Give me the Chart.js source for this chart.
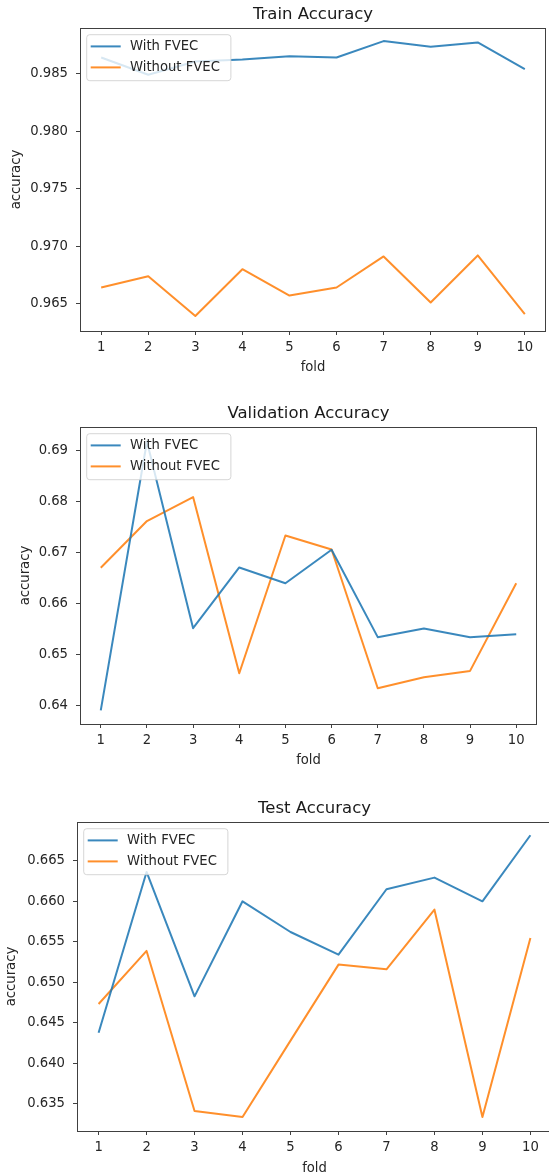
<!DOCTYPE html>
<html>
<head>
<meta charset="utf-8">
<script src="https://cdn.jsdelivr.net/npm/chart.js@4.4.1/dist/chart.umd.min.js"></script>
<style>
  html, body { margin: 0; padding: 0; background: #ffffff; overflow: hidden; width: 549px; height: 1176px; }
  canvas { position: absolute; left: 0; display: block; }
</style>
</head>
<body>
<canvas id="trainChart" width="549" height="390" style="top:0px"></canvas>
<canvas id="valChart" width="549" height="395" style="top:390px"></canvas>
<canvas id="testChart" width="560" height="391" style="top:785px"></canvas>
<script>
// ---------------- data ----------------
const folds = [1, 2, 3, 4, 5, 6, 7, 8, 9, 10];
const seriesLabels = ['With FVEC', 'Without FVEC'];
const chartTitles = ['Train Accuracy', 'Validation Accuracy', 'Test Accuracy'];
const xAxisLabel = 'fold';
const yAxisLabel = 'accuracy';

const trainWith    = [0.98642, 0.98492, 0.98608, 0.98625, 0.98654, 0.98642, 0.98785, 0.98735, 0.98773, 0.98541];
const trainWithout = [0.96640, 0.96738, 0.96392, 0.96799, 0.96570, 0.96640, 0.96910, 0.96509, 0.96919, 0.96407];

const valWith    = [0.63915, 0.69180, 0.65524, 0.66713, 0.66404, 0.67059, 0.65348, 0.65518, 0.65348, 0.65407];
const valWithout = [0.66707, 0.67622, 0.68091, 0.64641, 0.67339, 0.67065, 0.64348, 0.64563, 0.64687, 0.66404];

const testWith    = [0.64378, 0.66364, 0.64827, 0.66001, 0.65622, 0.65342, 0.66150, 0.66294, 0.66001, 0.66817];
const testWithout = [0.64732, 0.65388, 0.63410, 0.63336, 0.64280, 0.65219, 0.65161, 0.65898, 0.63336, 0.65548];

const trainTicks = [0.965, 0.970, 0.975, 0.980, 0.985];
const trainTickLabels = ['0.965', '0.970', '0.975', '0.980', '0.985'];
const valTicks = [0.64, 0.65, 0.66, 0.67, 0.68, 0.69];
const valTickLabels = ['0.64', '0.65', '0.66', '0.67', '0.68', '0.69'];
const testTicks = [0.635, 0.640, 0.645, 0.650, 0.655, 0.660, 0.665];
const testTickLabels = ['0.635', '0.640', '0.645', '0.650', '0.655', '0.660', '0.665'];

const trainRange = [0.96261, 0.98899];
const valRange = [0.63647, 0.69464];
const testRange = [0.63163, 0.66981];
const foldRange = [0.55, 10.45];

// ---------------- style ----------------
const FONT = 'DejaVu Sans';
const TEXT = '#262626';
const SPINE = '#404040';
const COLORS = ['rgba(31,119,180,0.88)', 'rgba(255,127,14,0.88)'];

Chart.defaults.font.family = FONT;
Chart.defaults.font.size = 13.2;
Chart.defaults.color = TEXT;

const mplPlugin = {
  id: 'mpl',
  afterDatasetsDraw(chart) {
    const { ctx, chartArea: a } = chart;
    ctx.save();
    ctx.strokeStyle = SPINE;
    ctx.lineWidth = 1;
    ctx.strokeRect(Math.round(a.left) + 0.5, Math.round(a.top) + 0.5,
                   Math.round(a.right - a.left) - 1, Math.round(a.bottom - a.top));
    ctx.restore();
  },
  afterDraw(chart, args, opts) {
    const { ctx, chartArea: a } = chart;
    ctx.save();
    // title
    ctx.fillStyle = '#1a1a1a';
    ctx.font = '16.5px "' + FONT + '"';
    ctx.textAlign = 'center';
    ctx.textBaseline = 'middle';
    ctx.fillText(opts.title, (a.left + a.right) / 2, a.top - 13);

    // legend (upper left, semi-transparent)
    ctx.font = '13.2px "' + FONT + '"';
    const ds = chart.data.datasets;
    let maxW = 0;
    ds.forEach(d => { maxW = Math.max(maxW, ctx.measureText(d.label).width); });
    const bx = a.left + 6.7, by = a.top + 6.7;
    const bw = 43.3 + maxW + 11, bh = 46;
    const r = 3;
    ctx.beginPath();
    ctx.moveTo(bx + r, by);
    ctx.lineTo(bx + bw - r, by);
    ctx.arcTo(bx + bw, by, bx + bw, by + r, r);
    ctx.lineTo(bx + bw, by + bh - r);
    ctx.arcTo(bx + bw, by + bh, bx + bw - r, by + bh, r);
    ctx.lineTo(bx + r, by + bh);
    ctx.arcTo(bx, by + bh, bx, by + bh - r, r);
    ctx.lineTo(bx, by + r);
    ctx.arcTo(bx, by, bx + r, by, r);
    ctx.closePath();
    ctx.fillStyle = 'rgba(255,255,255,0.8)';
    ctx.fill();
    ctx.strokeStyle = 'rgba(204,204,204,0.8)';
    ctx.lineWidth = 1;
    ctx.stroke();
    ds.forEach((d, i) => {
      const cy = by + 11.7 + i * 21;
      ctx.strokeStyle = d.borderColor;
      ctx.lineWidth = 2;
      ctx.beginPath();
      ctx.moveTo(bx + 4, cy);
      ctx.lineTo(bx + 34, cy);
      ctx.stroke();
      ctx.fillStyle = TEXT;
      ctx.textAlign = 'left';
      ctx.textBaseline = 'middle';
      ctx.fillText(d.label, bx + 43.3, cy + 0.5);
    });
    ctx.restore();
  }
};

function makeChart(id, title, withData, withoutData, yRange, yTicks, yTickLabels, lay) {
  const series = [withData, withoutData];
  return new Chart(document.getElementById(id), {
    type: 'line',
    data: {
      datasets: series.map((vals, s) => ({
        label: seriesLabels[s],
        data: folds.map((f, i) => ({ x: f, y: vals[i] })),
        borderColor: COLORS[s],
        backgroundColor: COLORS[s],
        borderWidth: 2,
        borderJoinStyle: 'round',
        pointRadius: 0,
        pointHoverRadius: 0,
        tension: 0,
        fill: false
      }))
    },
    options: {
      responsive: false,
      animation: false,
      devicePixelRatio: 1,
      events: [],
      layout: { padding: { left: 0, right: lay.right, top: lay.top, bottom: 0 } },
      plugins: {
        legend: { display: false },
        tooltip: { enabled: false },
        title: { display: false },
        mpl: { title: title }
      },
      scales: {
        x: {
          type: 'linear',
          position: 'bottom',
          min: foldRange[0],
          max: foldRange[1],
          afterBuildTicks: (scale) => { scale.ticks = folds.map(v => ({ value: v })); },
          afterFit: (scale) => { scale.height = lay.xHeight; },
          ticks: {
            color: TEXT,
            padding: 5,
            maxRotation: 0,
            autoSkip: false,
            callback: (v, i) => String(folds[i])
          },
          grid: { display: true, drawOnChartArea: false, drawTicks: true, tickLength: 4, color: SPINE, lineWidth: 1 },
          border: { display: false },
          title: {
            display: true,
            text: xAxisLabel,
            color: TEXT,
            font: { size: 13.2 },
            padding: { top: 0, bottom: lay.xTitlePad }
          }
        },
        y: {
          type: 'linear',
          position: 'left',
          min: yRange[0],
          max: yRange[1],
          afterBuildTicks: (scale) => { scale.ticks = yTicks.map(v => ({ value: v })); },
          afterFit: (scale) => { scale.width = lay.yWidth; },
          ticks: {
            color: TEXT,
            padding: 8,
            autoSkip: false,
            callback: (v, i) => yTickLabels[i]
          },
          grid: { display: true, drawOnChartArea: false, drawTicks: true, tickLength: 4, color: SPINE, lineWidth: 1 },
          border: { display: false },
          title: {
            display: true,
            text: yAxisLabel,
            color: TEXT,
            font: { size: 13.2 },
            padding: { top: lay.yTitlePad, bottom: 0 }
          }
        }
      }
    },
    plugins: [mplPlugin]
  });
}

makeChart('trainChart', chartTitles[0], trainWith, trainWithout, trainRange, trainTicks, trainTickLabels,
  { right: 3, top: 28, xHeight: 59, yWidth: 80, xTitlePad: 15, yTitlePad: 9 });
makeChart('valChart', chartTitles[1], valWith, valWithout, valRange, valTicks, valTickLabels,
  { right: 12, top: 37, xHeight: 61, yWidth: 80, xTitlePad: 17, yTitlePad: 18 });
makeChart('testChart', chartTitles[2], testWith, testWithout, testRange, testTicks, testTickLabels,
  { right: 8, top: 37, xHeight: 45, yWidth: 77, xTitlePad: 0, yTitlePad: 4 });
</script>
</body>
</html>
